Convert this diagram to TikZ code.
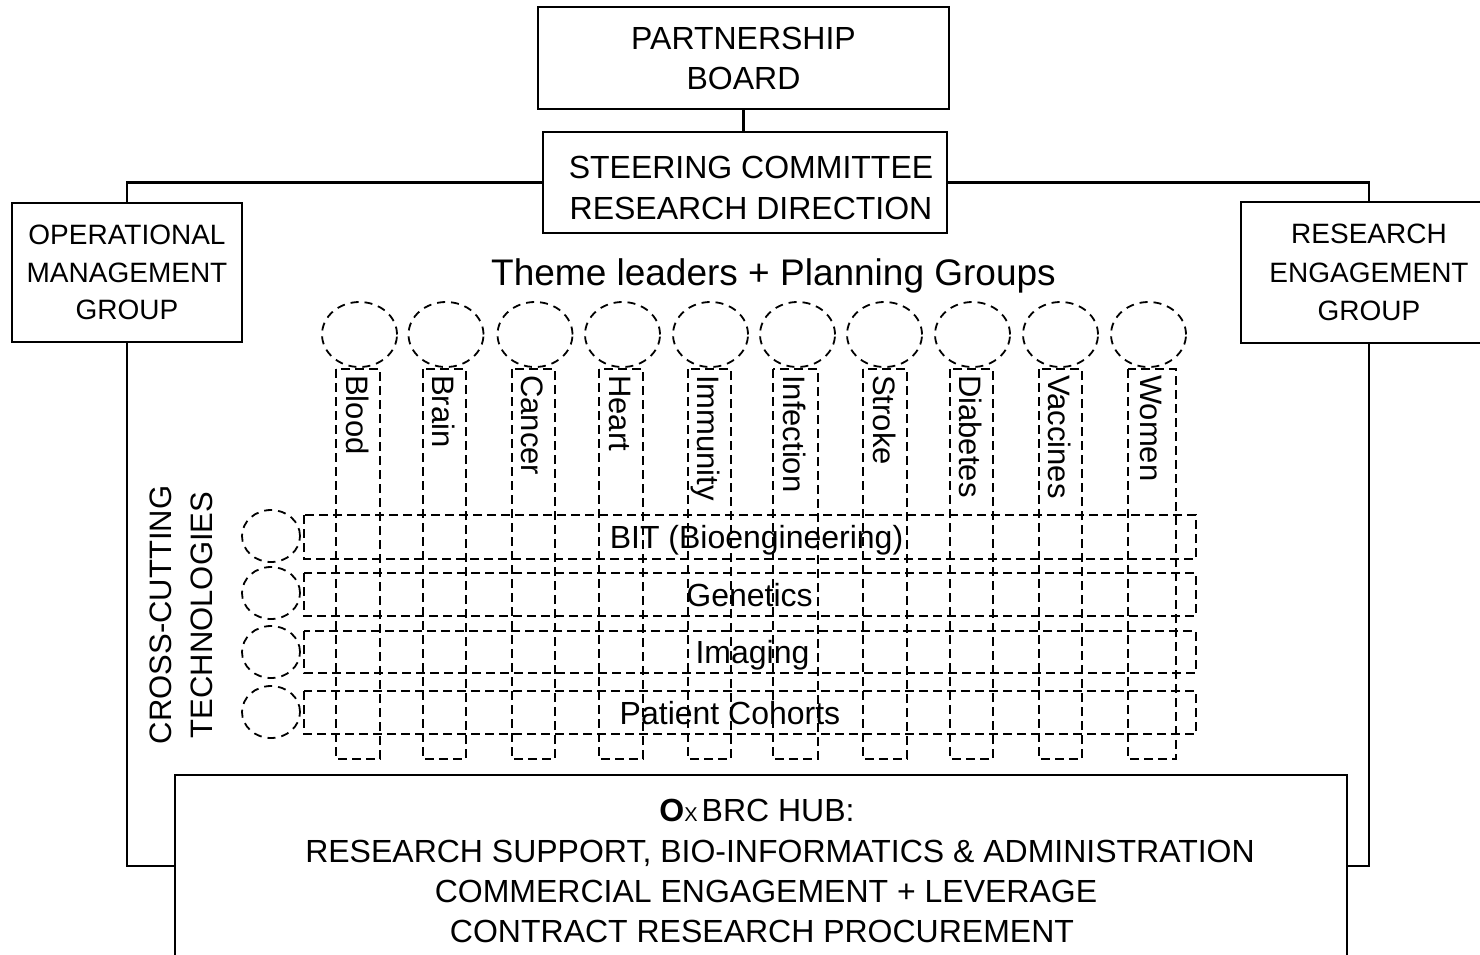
\documentclass[tikz,border=0pt]{standalone}
\usepackage{fontspec}
\setmainfont{Liberation Sans}
\usetikzlibrary{shapes.geometric}
\begin{document}
\begin{tikzpicture}[x=1pt,y=-1pt,
  boxnode/.style={draw, line width=2.2pt, inner sep=0pt, align=center},
  conn/.style={line width=2.2pt},
  gridline/.style={line width=2.5pt, dash pattern=on 9pt off 5pt},
  ring/.style={line width=1.8pt, dash pattern=on 8pt off 6pt},
  collabel/.style={rotate=-90, anchor=base west, inner sep=0pt, font=\fontsize{31}{36}\selectfont},
  rowlabel/.style={anchor=base, inner sep=0pt, font=\fontsize{32}{38}\selectfont},
  hubline/.style={anchor=base, inner sep=0pt, font=\fontsize{32}{40}\selectfont}]
\path[use as bounding box] (0,0) rectangle (1480,954);
\clip (0,0) rectangle (1480,954);

% governance boxes
\node[boxnode, minimum width=411pt, minimum height=102pt,
      font=\fontsize{32}{40}\selectfont] (pb) at (743.5,58) {PARTNERSHIP\\BOARD};
\node[boxnode, minimum width=404pt, minimum height=101pt] (steer) at (745,182.5) {};
\node[align=center, inner sep=0pt, font=\fontsize{32}{41}\selectfont] (steertext)
      at (751,187.5) {STEERING COMMITTEE\\RESEARCH DIRECTION};
\node[boxnode, minimum width=230pt, minimum height=139pt,
      font=\fontsize{28}{37.5}\selectfont] (omg) at (127,272.5)
      {OPERATIONAL\\MANAGEMENT\\GROUP};
\node[boxnode, minimum width=256pt, minimum height=141pt,
      font=\fontsize{28}{38.5}\selectfont] (reg) at (1369,272.5)
      {RESEARCH\\ENGAGEMENT\\GROUP};
\node[boxnode, minimum width=1172pt, minimum height=250pt] (hub) at (761,900) {};

% hub text
\node[hubline] (hub1) at (757,821)
  {{\bfseries O}{\fontsize{20}{20}\selectfont X}\hspace{4pt}BRC HUB:};
\node[hubline] (hub2) at (780,862) {RESEARCH SUPPORT, BIO-INFORMATICS \& ADMINISTRATION};
\node[hubline] (hub3) at (766,902) {COMMERCIAL ENGAGEMENT + LEVERAGE};
\node[hubline] (hub4) at (762,942) {CONTRACT RESEARCH PROCUREMENT};

% reporting lines
\draw[conn] (pb.south) -- (pb.south |- steer.north);
\draw[conn] (steer.west) -| (omg.north);
\draw[conn] (steer.east) -| (reg.north);
\draw[conn] (omg.south) |- (hub.west |- 0,866);
\draw[conn] (reg.south) |- (hub.east |- 0,866);

% heading of the theme matrix
\node[anchor=base, inner sep=0pt, font=\fontsize{37}{44}\selectfont] (themes) at (773.5,285)
  {Theme leaders + Planning Groups};

% cross-cutting technology rows
\draw[gridline] (304,515) rectangle (1196,559);
\draw[gridline] (304,573) rectangle (1196,616);
\draw[gridline] (304,631) rectangle (1196,673);
\draw[gridline] (304,691) rectangle (1196,734);
\foreach \yy in {536,593,652,712}
  \draw[ring] (271,\yy) ellipse [x radius=29pt, y radius=26pt];
\node[rowlabel] (bit) at (756.5,548.5) {BIT (Bioengineering)};
\node[rowlabel] (gen) at (749.5,606) {Genetics};
\node[rowlabel] (img) at (752.5,663.5) {Imaging};
\node[rowlabel] (pat) at (730,724) {Patient Cohorts};

% clinical theme columns with their leaders
\foreach \name/\l/\r/\c in {Blood/336/380/359.5, Brain/423/466/446,
    Cancer/512/555/535, Heart/599/643/622.5, Immunity/688/731/710.5,
    Infection/773/818/797.5, Stroke/863/907/884.5, Diabetes/950/993/972.5,
    Vaccines/1039/1082/1060.5, Women/1128/1176/1148.5}{
  \draw[gridline] (\l,369) rectangle (\r,759);
  \draw[ring] (\c,334.5) ellipse [x radius=37.5pt, y radius=32.5pt];
  \pgfmathsetmacro\bx{(\l+\r)/2-12}
  \node[collabel] (lab-\name) at (\bx,375) {\name};
}

% side caption of the rows
\node[rotate=90, align=center, inner sep=0pt, font=\fontsize{31}{41}\selectfont]
  (cross) at (181,615) {CROSS-CUTTING\\TECHNOLOGIES};
\end{tikzpicture}
\end{document}
